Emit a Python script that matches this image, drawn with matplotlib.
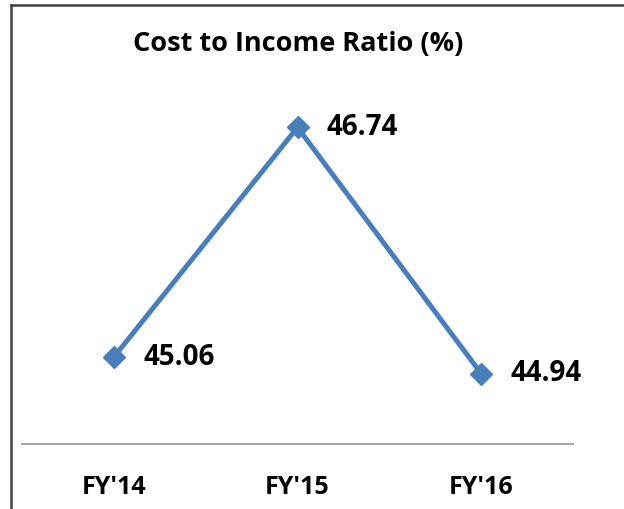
import matplotlib
matplotlib.use("Agg")
import matplotlib.pyplot as plt
from matplotlib.lines import Line2D

# Data
years = ["FY'14", "FY'15", "FY'16"]
ratio = [45.06, 46.74, 44.94]

plt.rcParams["font.family"] = ["Open Sans", "DejaVu Sans"]

fig = plt.figure(figsize=(6.24, 5.09), dpi=100)
ax = fig.add_axes([22 / 624, 65 / 509, 551 / 624, 344 / 509])

x = list(range(len(years)))
ax.plot(x, ratio, color="#4a7ebb", linewidth=3.6, marker="D", markersize=11,
        markeredgecolor="#4a7ebb", markerfacecolor="#4a7ebb")

for xi, v in zip(x, ratio):
    ax.annotate(f"{v:.2f}", (xi, v), xytext=(21, 0), textcoords="offset points",
                ha="left", va="center", fontsize=20, fontweight="bold", color="black")

ax.set_xlim(-0.5, 2.5)
ax.set_ylim(44.425, 46.94)
ax.set_xticks(x)
ax.set_xticklabels(years, fontsize=18, fontweight="bold")
ax.set_yticks([])
ax.tick_params(axis="x", length=0, pad=22)
for side in ["top", "right", "left"]:
    ax.spines[side].set_visible(False)
ax.spines["bottom"].set_color("#a6a6a6")
ax.spines["bottom"].set_linewidth(1.5)

fig.text(298 / 624, 1 - 44 / 509, "Cost to Income Ratio (%)", ha="center", va="center",
         fontsize=19.5, fontweight="bold")

# outer frame (left and top edges)
fig.add_artist(Line2D([11 / 624, 11 / 624], [0, 1 - 5 / 509], color="#404040", linewidth=1.8,
                      transform=fig.transFigure))
fig.add_artist(Line2D([11 / 624, 1], [1 - 5 / 509, 1 - 5 / 509], color="#404040", linewidth=1.8,
                      transform=fig.transFigure))

plt.savefig("out.png")
